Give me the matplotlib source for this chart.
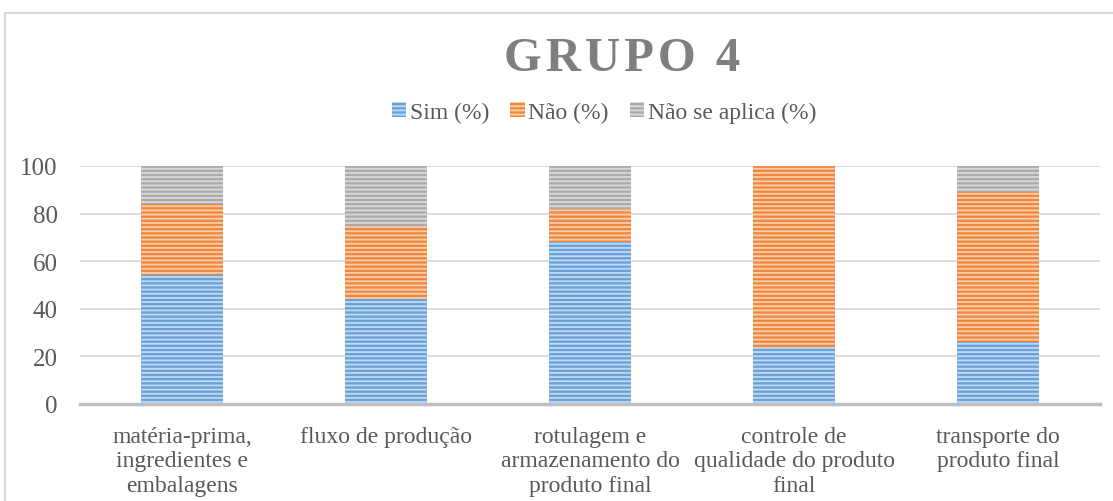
import matplotlib
matplotlib.use("Agg")
import matplotlib.pyplot as plt
from matplotlib.lines import Line2D
import numpy as np

categories = ["matéria-prima,\ningredientes e\nembalagens",
              "fluxo de produção",
              "rotulagem e\narmazenamento do\nproduto final",
              "controle de\nqualidade do produto\nfinal",
              "transporte do\nproduto final"]
sim = [54, 44, 68, 24, 26]
nao = [30, 31, 14, 76, 63]
nao_aplica = [16, 25, 18, 0, 11]
series_names = ["Sim (%)", "Não (%)", "Não se aplica (%)"]
yticks = [0, 20, 40, 60, 80, 100]
title = "GRUPO 4"

plt.rcParams['font.family'] = ['Liberation Serif', 'DejaVu Serif']
plt.rcParams['hatch.linewidth'] = 1.3

fig = plt.figure(figsize=(11.13, 5.02), dpi=100)
ax = fig.add_axes([80/1113, 1-405/502, 1020/1113, (405-167)/502])

x = np.arange(len(categories))
face = ["#6aa3da", "#f0893f", "#ababab"]
light = ["#c3daf1", "#f9cfae", "#dadada"]
bottom = np.zeros(len(categories))
handles = []
for vals, fc, lc, name in zip([sim, nao, nao_aplica], face, light, series_names):
    b = ax.bar(x, vals, 0.40, bottom=bottom, facecolor=fc, edgecolor=lc,
               hatch="----", linewidth=0, label=name, zorder=3)
    bottom += np.array(vals)
    handles.append(b)

ax.set_xlim(-0.5, len(categories) - 0.5)
ax.set_ylim(0, 100)
ax.set_yticks(yticks)
ax.set_xticks(x)
ax.set_xticklabels(categories, fontsize=17, color="#595959", linespacing=1.2)
ax.tick_params(axis='x', length=0, pad=16)
ax.tick_params(axis='y', length=0, pad=16, labelsize=18, labelcolor="#595959")
for s in ["top", "right", "left"]:
    ax.spines[s].set_visible(False)
ax.spines["bottom"].set_color("#bfbfbf")
ax.spines["bottom"].set_linewidth(2.5)
ax.spines["bottom"].set_zorder(4)
ax.yaxis.grid(True, color="#d9d9d9", linewidth=1.3, zorder=0)
ax.set_axisbelow(True)

fig.text(622/1113, 1-59/502, "\u200a".join(title), ha="center", va="center",
         fontsize=35, fontweight="bold", color="#7f7f7f")

fig.legend(handles=handles, labels=series_names, loc="center",
           bbox_to_anchor=(604/1113, 1-113/502), ncol=3, frameon=False,
           fontsize=17, handlelength=0.6, handleheight=0.6, handletextpad=0.15,
           columnspacing=0.9, labelcolor="#595959")

# outer chart frame
fig.add_artist(Line2D([5/1113, 5/1113], [0, 1-14/502], transform=fig.transFigure,
                      color="#d9d9d9", linewidth=1.5))
fig.add_artist(Line2D([5/1113, 1], [1-14/502, 1-14/502], transform=fig.transFigure,
                      color="#d9d9d9", linewidth=1.5))

fig.savefig("out.png", dpi=100)
